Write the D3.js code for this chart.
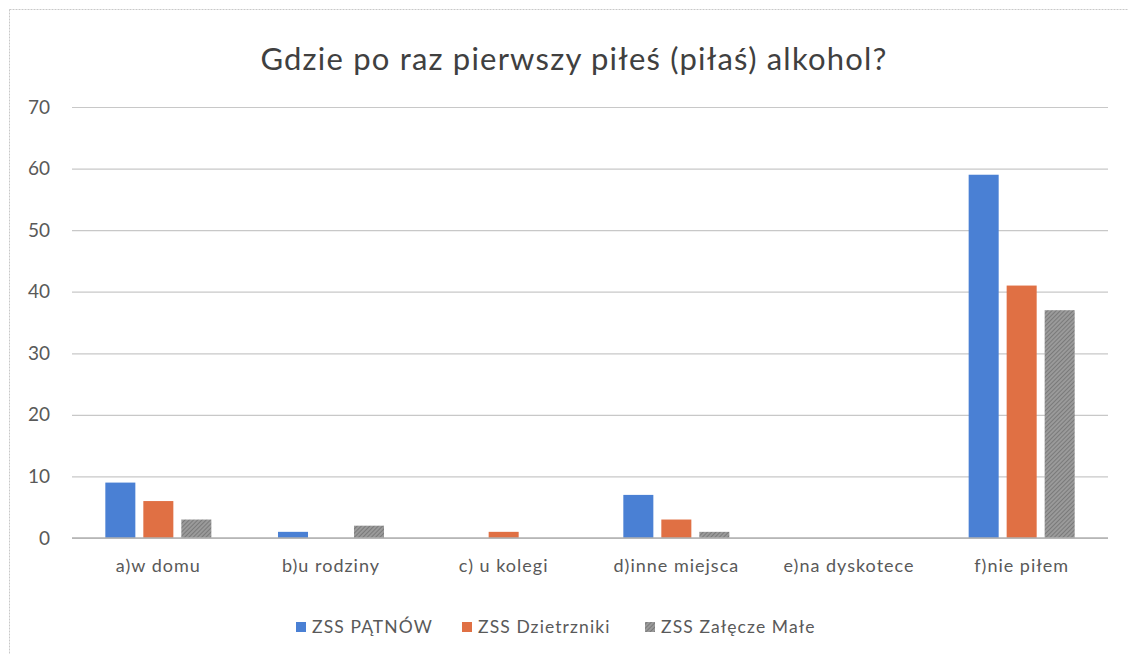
<!DOCTYPE html>
<html><head><meta charset="utf-8">
<script src="https://cdn.jsdelivr.net/npm/d3@7"></script>
<style>body{margin:0;background:#fff;} text{font-family:Lato,"Open Sans",sans-serif;}</style>
</head><body>
<svg id="c" width="1128" height="654"></svg>
<script>
const title = "Gdzie po raz pierwszy piłeś (piłaś) alkohol?";
const categories = ["a)w domu","b)u rodziny","c) u kolegi","d)inne miejsca","e)na dyskotece","f)nie piłem"];
const seriesNames = ["ZSS PĄTNÓW","ZSS Dzietrzniki","ZSS Załęcze Małe"];
const patnow = [9,1,0,7,0,59];
const dzietrzniki = [6,0,1,3,0,41];
const zalecze = [3,2,0,1,0,37];
const yTicks = [0,10,20,30,40,50,60,70];
const colors = ["#4a80d4","#e07044","url(#hatch)"];

const values = [patnow, dzietrzniki, zalecze];
const svg = d3.select("#c");
const defs = svg.append("defs");
const pat = defs.append("pattern").attr("id","hatch").attr("patternUnits","userSpaceOnUse")
  .attr("width",3).attr("height",3).attr("patternTransform","rotate(45)");
pat.append("rect").attr("width",3).attr("height",3).attr("fill","#9a9a9a");
pat.append("line").attr("x1",0).attr("y1",0).attr("x2",0).attr("y2",3).attr("stroke","#6f6f6f").attr("stroke-width",1.5);

// frame
svg.append("rect").attr("x",9.5).attr("y",9.5).attr("width",1140).attr("height",700)
  .attr("fill","none").attr("stroke","#c8c8c8").attr("stroke-dasharray","2,1");

const pLeft = 72, pRight = 1108, pTop = 107, pBottom = 538;
const x0 = d3.scaleBand().domain(categories).range([pLeft,pRight]).paddingInner(0.386).paddingOuter(0.193);
const x1 = d3.scaleBand().domain(seriesNames).range([0,x0.bandwidth()]).paddingInner(0.21);
const y = d3.scaleLinear().domain([0,70]).range([pBottom,pTop]);

// gridlines
const yAxis = d3.axisLeft(y).tickValues(yTicks).tickSize(-(pRight-pLeft)).tickPadding(22);
const ga = svg.append("g").attr("transform",`translate(${pLeft},0)`).call(yAxis);
ga.select(".domain").remove();
ga.selectAll(".tick line").attr("stroke","#c8c8c8").attr("stroke-width",1.2);
ga.selectAll(".tick text").attr("fill","#595959").style("font-size","19px").style("font-family","Lato,'Open Sans',sans-serif");

// bars
seriesNames.forEach((s,i)=>{
  svg.append("g").selectAll("rect").data(categories).join("rect")
    .attr("x",c=>x0(c)+x1(s))
    .attr("y",(c,j)=>y(values[i][j]))
    .attr("width",x1.bandwidth())
    .attr("height",(c,j)=>y(0)-y(values[i][j]))
    .attr("fill",colors[i]);
});

// baseline
svg.append("line").attr("x1",pLeft).attr("x2",pRight).attr("y1",y(0)).attr("y2",y(0)).attr("stroke","#b0b0b0").attr("stroke-width",1.3);

// category labels
const xAxis = d3.axisBottom(x0).tickSize(0).tickPadding(21);
const gx = svg.append("g").attr("transform",`translate(0,${pBottom})`).call(xAxis);
gx.select(".domain").remove();
gx.selectAll(".tick text").attr("fill","#595959").style("font-size","18px").style("letter-spacing","1px").style("font-family","Lato,'Open Sans',sans-serif");

// title
svg.append("text").attr("x",574).attr("y",70).attr("text-anchor","middle")
  .attr("fill","#404040").style("font-size","31px").style("letter-spacing","1.2px").text(title);

// legend
const legX = [296,462,645];
seriesNames.forEach((s,i)=>{
  svg.append("rect").attr("x",legX[i]).attr("y",622).attr("width",10).attr("height",10).attr("fill",colors[i]);
  svg.append("text").attr("x",legX[i]+16).attr("y",633).attr("fill","#595959").style("font-size","17.5px").style("letter-spacing","1.1px").text(s);
});
</script>
</body></html>
